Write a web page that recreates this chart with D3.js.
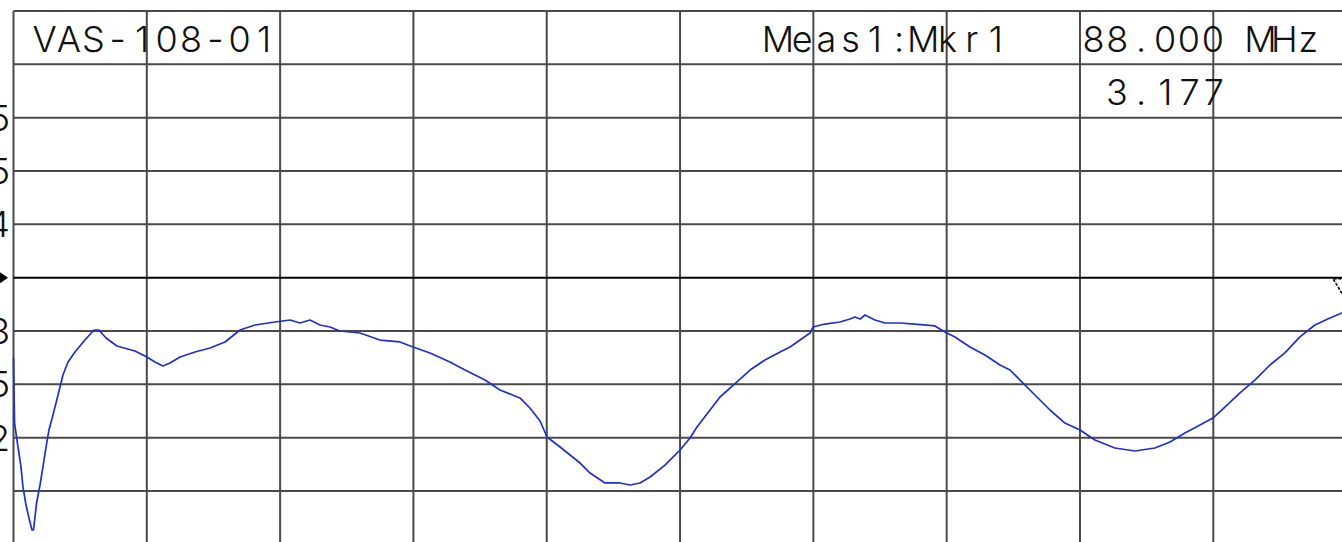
<!DOCTYPE html>
<html><head><meta charset="utf-8">
<script src="https://cdn.jsdelivr.net/npm/d3@7/dist/d3.min.js"></script>
<style>html,body{margin:0;padding:0;background:#fff;overflow:hidden}</style>
</head><body>
<svg id="c" width="1342" height="542"></svg>
<script>
// ---- data ----
const freqMHz = [78.000,78.008,78.026,78.056,78.071,78.094,78.116,78.139,78.150,78.173,78.199,78.221,78.244,78.266,78.296,78.334,78.371,78.409,78.461,78.536,78.604,78.641,78.694,78.776,78.911,79.001,79.061,79.121,79.174,79.249,79.361,79.474,79.587,79.699,79.812,79.962,80.074,80.149,80.224,80.299,80.374,80.449,80.599,80.749,80.899,80.997,81.124,81.274,81.387,81.537,81.649,81.799,81.874,81.950,82.002,82.100,82.250,82.325,82.437,82.550,82.625,82.700,82.775,82.887,83.000,83.075,83.127,83.225,83.300,83.427,83.525,83.637,83.750,83.825,83.900,83.975,83.997,84.087,84.200,84.275,84.312,84.350,84.387,84.462,84.537,84.650,84.762,84.912,84.987,85.062,85.175,85.287,85.400,85.475,85.550,85.662,85.775,85.887,86.000,86.112,86.262,86.412,86.562,86.675,86.787,86.900,86.997,87.087,87.200,87.312,87.425,87.537,87.650,87.762,87.875,87.965,88.000];
const vswr = [2.747,2.137,1.978,1.725,1.537,1.368,1.247,1.134,1.134,1.387,1.556,1.725,1.912,2.072,2.212,2.400,2.587,2.709,2.803,2.915,3.009,3.009,2.934,2.859,2.812,2.756,2.709,2.672,2.700,2.756,2.803,2.840,2.897,3.009,3.056,3.084,3.103,3.075,3.103,3.056,3.037,3.000,2.981,2.915,2.897,2.850,2.794,2.709,2.634,2.540,2.447,2.372,2.278,2.156,2.006,1.912,1.762,1.668,1.575,1.575,1.556,1.575,1.631,1.743,1.884,1.997,2.100,2.259,2.381,2.522,2.634,2.728,2.803,2.850,2.915,2.981,3.037,3.065,3.084,3.112,3.131,3.112,3.150,3.103,3.075,3.075,3.065,3.047,2.990,2.944,2.850,2.775,2.681,2.634,2.540,2.400,2.259,2.137,2.072,1.978,1.903,1.875,1.903,1.959,2.044,2.119,2.184,2.287,2.419,2.540,2.681,2.794,2.944,3.056,3.122,3.169,3.177];
const xDomain = [78, 88];          // MHz, 10 divisions
const yDomain = [1, 6];            // VSWR, 10 divisions
const xGridStep = 1;
const yGridStep = 0.5;
const refValue = 3.5;
const yTickValues = [5, 4.5, 4, 3, 2.5, 2];
const yTickLabels = ["5", "4.5", "4", "3", "2.5", "2"];
const titleText = "VAS-108-01";
const markerHeader = "Meas1:Mkr1";
const markerFreqText = "88.000 MHz";
const markerValueText = "3.177";
const markerFreq = 88.0;
const markerValue = 3.177;

// ---- drawing ----
const svg = d3.select("#c");
const x = d3.scaleLinear().domain(xDomain).range([13.5, 1346.6]);
const y = d3.scaleLinear().domain(yDomain).range([544.3, 11]);

const grid = svg.append("g");
const xs = d3.range(xDomain[0], xDomain[1] + 1e-9, xGridStep);
const ys = d3.range(yDomain[0], yDomain[1] + 1e-9, yGridStep);
grid.selectAll("line.v").data(xs).join("line")
  .attr("x1", d => x(d)).attr("x2", d => x(d))
  .attr("y1", y(yDomain[1])).attr("y2", y(yDomain[0]))
  .attr("stroke", "#4a4a4a").attr("stroke-width", 2);
grid.selectAll("line.h").data(ys.filter(v => v !== refValue)).join("line")
  .attr("x1", x(xDomain[0])).attr("x2", x(xDomain[1]))
  .attr("y1", d => y(d)).attr("y2", d => y(d))
  .attr("stroke", "#4a4a4a").attr("stroke-width", 2);
// reference line
svg.append("line")
  .attr("x1", x(xDomain[0])).attr("x2", x(xDomain[1]))
  .attr("y1", y(refValue)).attr("y2", y(refValue))
  .attr("stroke", "#000").attr("stroke-width", 2);
// reference arrow at left
const ry = y(refValue);
svg.append("path")
  .attr("d", `M0,${ry - 5.5}L8,${ry}L0,${ry + 5.5}Z`)
  .attr("fill", "#000");

const font = "Inter, 'DejaVu Sans', sans-serif";
function monoText(str, firstCenter, pitch, baseline, anchor) {
  const xsPos = Array.from(str).map((c, i) => firstCenter + i * pitch);
  return svg.append("text")
    .attr("x", xsPos.join(" "))
    .attr("y", baseline)
    .attr("text-anchor", anchor || "middle")
    .attr("font-family", font)
    .attr("font-weight", 300)
    .attr("font-size", 36)
    .attr("fill", "#111")
    .text(str);
}
monoText(titleText, 44.5, 24.4, 52);
monoText(markerHeader, 778, 24.2, 52);
monoText(markerFreqText, 1093.5, 23.85, 52);
monoText(markerValueText, 1117, 24.2, 105);

// y labels (clipped at left edge)
svg.append("g").selectAll("text").data(yTickValues).join("text")
  .attr("x", 10)
  .attr("y", d => y(d) + 13)
  .attr("text-anchor", "end")
  .attr("font-family", font)
  .attr("font-weight", 300)
  .attr("font-size", 36)
  .attr("fill", "#111")
  .text((d, i) => yTickLabels[i]);

// trace
const pts = freqMHz.map((f, i) => [f, vswr[i]]);
svg.append("path")
  .attr("d", d3.line().x(d => x(d[0])).y(d => y(d[1]))(pts))
  .attr("fill", "none")
  .attr("stroke", "#1f2fd0")
  .attr("stroke-width", 1.7)
  .attr("stroke-linejoin", "round");

// marker triangle (apex above trace point)
const mx = x(markerFreq), my = y(markerValue) - 11;
svg.append("path")
  .attr("d", `M${mx},${my}L${mx - 13.6},${my - 22.5}L${mx + 13.6},${my - 22.5}Z`)
  .attr("fill", "none")
  .attr("stroke", "#000")
  .attr("stroke-width", 1.6)
  .attr("stroke-dasharray", "3,1.5");
</script>
</body></html>
